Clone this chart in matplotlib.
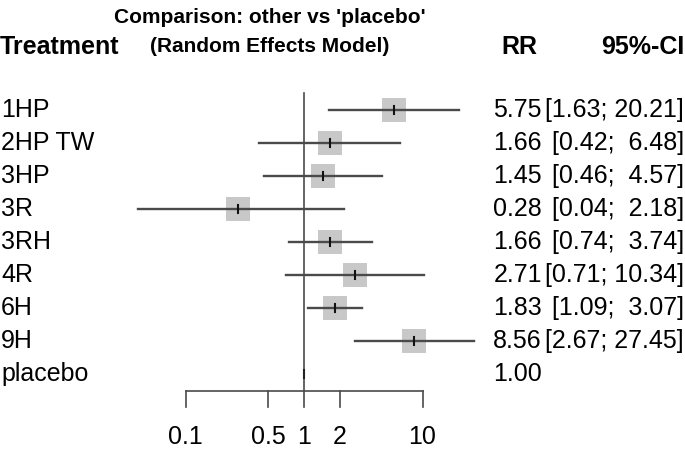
# Forest plot: other treatments vs placebo (random effects)
import matplotlib.pyplot as plt
from matplotlib.transforms import blended_transform_factory

# Data
treatments = ['1HP', '2HP TW', '3HP', '3R', '3RH', '4R', '6H', '9H', 'placebo']
rr = [5.75, 1.66, 1.45, 0.28, 1.66, 2.71, 1.83, 8.56, 1.00]
lower = [1.63, 0.42, 0.46, 0.04, 0.74, 0.71, 1.09, 2.67, None]
upper = [20.21, 6.48, 4.57, 2.18, 3.74, 10.34, 3.07, 27.45, None]
tickVals = [0.1, 0.5, 1, 2, 10]
tickLabels = ['0.1', '0.5', '1', '2', '10']

plt.rcParams['font.family'] = ['Liberation Sans', 'DejaVu Sans']
# header in the reference looks condensed
headFont = ['Liberation Sans Narrow', 'Liberation Sans']
fs = 18
lineCol = '#4a4a4a'

fig = plt.figure(figsize=(6.85, 4.54), dpi=100)
ax = fig.add_axes([0, 0, 1, 1])
ax.set_xscale('log')
# x: 1 sits at 304 px, one decade is ~118.5 px
ax.set_xlim(10 ** (-304 / 118.5), 10 ** ((685 - 304) / 118.5))
# y: row index, row 0 at 110 px, 33 px per row
ax.set_ylim((454 - 110) / 33, -110 / 33)
ax.axis('off')

trans = blended_transform_factory(ax.transAxes, ax.transData)

def px(x):
    return x / 685

# Header
ax.text(px(270), -2.8, "Comparison: other vs 'placebo'", transform=trans,
        ha='center', va='center', fontsize=15, fontweight='bold', family=headFont)
ax.text(px(270), -1.93, '(Random Effects Model)', transform=trans,
        ha='center', va='center', fontsize=15, fontweight='bold', family=headFont)
ax.text(px(0), -1.92, 'Treatment', transform=trans, ha='left', va='center',
        fontsize=fs, fontweight='bold', family=headFont)
ax.text(px(519), -1.92, 'RR', transform=trans, ha='center', va='center',
        fontsize=fs, fontweight='bold', family=headFont)
ax.text(px(684), -1.92, '95%-CI', transform=trans, ha='right', va='center',
        fontsize=fs, fontweight='bold', family=headFont)

# Reference line at RR = 1
axisY = (391 - 110) / 33
tickY = (407 - 110) / 33
ax.plot([1, 1], [(93 - 110) / 33, axisY], color=lineCol, lw=1.2)

# Rows
for i in range(len(treatments)):
    ax.text(px(1), i, treatments[i], transform=trans, ha='left', va='center', fontsize=fs)
    ax.text(px(542), i, '%.2f' % rr[i], transform=trans, ha='right', va='center', fontsize=fs)
    if lower[i] is None:
        # reference treatment: just a small tick
        ax.plot([rr[i], rr[i]], [i - 0.13, i + 0.13], color='#222222', lw=1.5)
        continue
    ci = '[%4.2f; %5.2f]' % (lower[i], upper[i])
    ax.text(px(684), i, ci, transform=trans, ha='right', va='center', fontsize=fs)
    ax.plot(rr[i], i, marker='s', markersize=17, color='#c8c8c8', markeredgewidth=0,
            zorder=2)
    ax.plot([lower[i], upper[i]], [i, i], color=lineCol, lw=1.7, zorder=3)
    ax.plot([rr[i], rr[i]], [i - 0.12, i + 0.12], color='#111111', lw=1.5, zorder=4)

# Bottom axis
ax.plot([tickVals[0], tickVals[-1]], [axisY, axisY], color=lineCol, lw=1.2)
for t, lab in zip(tickVals, tickLabels):
    ax.plot([t, t], [axisY, tickY], color=lineCol, lw=1.2)
    ax.text(t, (437 - 110) / 33, lab, ha='center', va='center', fontsize=fs)

plt.savefig('out.png', dpi=100)
